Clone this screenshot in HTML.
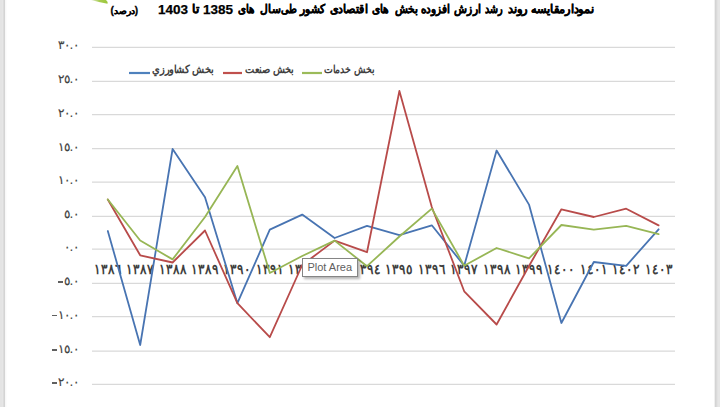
<!DOCTYPE html>
<html><head><meta charset="utf-8"><style>
html,body{margin:0;padding:0;}
body{width:720px;height:407px;overflow:hidden;position:relative;background:#fff;font-family:"Liberation Sans",sans-serif;}
.lb{position:absolute;left:0;top:0;width:7px;height:407px;background:linear-gradient(90deg,#e4e4e4 0,#e4e4e4 2px,#e6e6e6 2px,#e6e6e6 3px,#dcdcdc 3px,#dcdcdc 4px,#d4d4d4 4px,#d4d4d4 5px,#f8f8f8 5px,#f8f8f8 6px,#fcfcfc 6px,#fcfcfc 7px);}
.rb{position:absolute;left:714px;top:0;width:6px;height:407px;background:linear-gradient(90deg,#f0f0f0 0,#f0f0f0 1px,#d4d4d4 1px,#d4d4d4 2px,#dadada 2px,#dadada 3px,#e2e2e2 3px,#e2e2e2 4px,#e6e6e6 4px);}
svg{position:absolute;left:0;top:0;}
.t{position:absolute;font-weight:bold;color:#000;white-space:nowrap;line-height:16px;}
.ta{top:0.5px;font-size:11.5px;direction:rtl;-webkit-text-stroke:0.35px #000;transform-origin:0 50%;}
.tn{top:1.5px;font-size:13.5px;-webkit-text-stroke:0.25px #000;}
.pct{top:3.7px;left:110.5px;font-size:10px;line-height:14px;direction:rtl;-webkit-text-stroke:0.3px #000;}
.yl{position:absolute;left:20px;width:59px;text-align:right;font-size:12px;-webkit-text-stroke:0.15px #404040;color:#404040;line-height:16px;direction:ltr;}
.mn{display:inline-block;width:5px;height:1.4px;background:#606060;margin-right:0.5px;vertical-align:2.5px;}
.xl{position:absolute;top:261px;width:50px;text-align:center;font-size:14px;transform:scaleX(0.86);font-weight:bold;color:#404040;line-height:16px;}
.lg{position:absolute;top:62px;font-size:10.5px;color:#404040;line-height:14px;direction:rtl;white-space:nowrap;font-weight:bold;transform-origin:0 50%;}
.tip{position:absolute;left:302px;top:258px;width:53.5px;height:17px;border:1px solid #858585;background:#fff;box-shadow:2px 2px 2.5px rgba(0,0,0,.3);font-size:11px;color:#606060;line-height:16.5px;text-align:center;}
</style></head><body>
<div class="lb"></div><div class="rb"></div>
<svg width="720" height="407" viewBox="0 0 720 407">
<defs><linearGradient id="gg" x1="0" x2="1" y1="0" y2="0"><stop offset="0" stop-color="#e0ead0"/><stop offset="0.5" stop-color="#a8cc50"/><stop offset="1" stop-color="#9cc73c"/></linearGradient></defs><path d="M91,0 L106,0 Q108.5,2 107.5,3.8 Q99,2.2 91,0 Z" fill="url(#gg)"/>
<g stroke="#d9d9d9" stroke-width="1.2"><line x1="92" x2="675" y1="47.4" y2="47.4"/><line x1="92" x2="675" y1="81.3" y2="81.3"/><line x1="92" x2="675" y1="114.7" y2="114.7"/><line x1="92" x2="675" y1="148.7" y2="148.7"/><line x1="92" x2="675" y1="182.2" y2="182.2"/><line x1="92" x2="675" y1="216.3" y2="216.3"/><line x1="92" x2="675" y1="249.2" y2="249.2"/><line x1="92" x2="675" y1="283.3" y2="283.3"/><line x1="92" x2="675" y1="316.7" y2="316.7"/><line x1="92" x2="675" y1="351.2" y2="351.2"/><line x1="92" x2="675" y1="384.3" y2="384.3"/></g>
</svg>
<div class="t ta" style="left:530.8px;transform:scaleX(0.945)">نمودارمقایسه</div><div class="t ta" style="left:508.3px;transform:scaleX(0.952)">روند</div><div class="t ta" style="left:485.0px;transform:scaleX(0.795)">رشد</div><div class="t ta" style="left:454.2px;transform:scaleX(0.887)">ارزش</div><div class="t ta" style="left:421.4px;transform:scaleX(0.873)">افزوده</div><div class="t ta" style="left:394.8px;transform:scaleX(0.883)">بخش</div><div class="t ta" style="left:372.2px;transform:scaleX(0.876)">های</div><div class="t ta" style="left:330.2px;transform:scaleX(0.915)">اقتصادی</div><div class="t ta" style="left:300.2px;transform:scaleX(0.887)">کشور</div><div class="t ta" style="left:281.0px;transform:scaleX(0.816)">طی</div><div class="t ta" style="left:259.8px;transform:scaleX(0.889)">سال</div><div class="t ta" style="left:238.1px;transform:scaleX(0.853)">های</div>
<div class="t tn" style="left:203px">1385</div>
<div class="t ta" style="left:192.3px;transform:scaleX(1)">تا</div>
<div class="t tn" style="left:158px">1403</div>
<div class="t pct">(<span style="font-size:9px">درصد</span>)</div>
<div class="yl" style="top:37.4px">٣٠.٠</div><div class="yl" style="top:71.3px">٢٥.٠</div><div class="yl" style="top:104.7px">٢٠.٠</div><div class="yl" style="top:138.7px">١٥.٠</div><div class="yl" style="top:172.2px">١٠.٠</div><div class="yl" style="top:206.3px">٥.٠</div><div class="yl" style="top:239.2px">٠.٠</div><div class="yl" style="top:273.3px"><i class=mn></i>٥.٠</div><div class="yl" style="top:306.7px"><i class=mn></i>١٠.٠</div><div class="yl" style="top:341.2px"><i class=mn></i>١٥.٠</div><div class="yl" style="top:374.3px"><i class=mn></i>٢٠.٠</div>
<div class="xl" style="left:82.8px">١٣٨٦</div><div class="xl" style="left:115.2px">١٣٨٧</div><div class="xl" style="left:147.6px">١٣٨٨</div><div class="xl" style="left:180.0px">١٣٨٩</div><div class="xl" style="left:212.4px">١٣٩٠</div><div class="xl" style="left:244.8px">١٣٩١</div><div class="xl" style="left:277.2px">١٣٩٢</div><div class="xl" style="left:309.6px">١٣٩٣</div><div class="xl" style="left:342.0px">١٣٩٤</div><div class="xl" style="left:374.4px">١٣٩٥</div><div class="xl" style="left:406.8px">١٣٩٦</div><div class="xl" style="left:439.2px">١٣٩٧</div><div class="xl" style="left:471.6px">١٣٩٨</div><div class="xl" style="left:504.0px">١٣٩٩</div><div class="xl" style="left:536.4px">١٤٠٠</div><div class="xl" style="left:568.8px">١٤٠١</div><div class="xl" style="left:601.2px">١٤٠٢</div><div class="xl" style="left:633.6px">١٤٠٣</div>
<svg width="720" height="407" viewBox="0 0 720 407">
<g fill="none" stroke-width="1.8" stroke-linejoin="round" stroke-linecap="round">
<polyline stroke="#4874b2" points="107.8,231.0 140.2,345.0 172.6,149.0 205.0,197.2 237.4,303.2 269.8,229.6 302.2,214.6 334.6,238.0 367.0,225.9 399.4,235.2 431.8,225.3 464.2,265.7 496.6,150.5 529.0,204.6 561.4,323.0 593.8,262.0 626.2,265.8 658.6,229.3"/>
<polyline stroke="#b84b4a" points="107.8,199.5 140.2,255.3 172.6,262.5 205.0,230.5 237.4,303.2 269.8,337.2 302.2,265.0 334.6,240.6 367.0,252.2 399.4,91.0 431.8,207.0 464.2,291.3 496.6,324.5 529.0,266.0 561.4,209.3 593.8,217.0 626.2,208.7 658.6,225.4"/>
<polyline stroke="#97b655" points="107.8,199.5 140.2,240.5 172.6,259.4 205.0,217.0 237.4,166.0 269.8,273.0 302.2,256.0 334.6,240.6 367.0,266.2 399.4,236.5 431.8,208.6 464.2,265.7 496.6,248.0 529.0,258.4 561.4,225.0 593.8,229.7 626.2,225.8 658.6,234.2"/>
</g>
<g stroke-width="2.2">
<line x1="129" x2="150" y1="73" y2="73" stroke="#4f81bd"/>
<line x1="223" x2="242" y1="73" y2="73" stroke="#c0504d"/>
<line x1="302" x2="322" y1="73" y2="73" stroke="#9bbb59"/>
</g>
</svg>
<div class="lg" style="left:152px;transform:scaleX(0.9)">بخش كشاورزي</div>
<div class="lg" style="left:245px;transform:scaleX(0.89)">بخش صنعت</div>
<div class="lg" style="left:324px;transform:scaleX(0.85)">بخش خدمات</div>
<div class="tip">Plot Area</div>
</body></html>
